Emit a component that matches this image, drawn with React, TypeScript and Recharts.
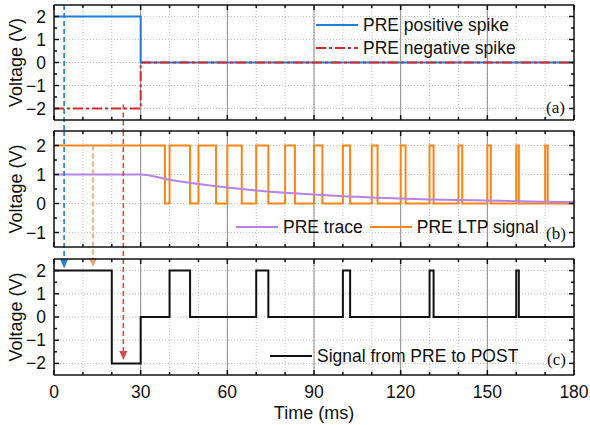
import React from "react";
import {
  ComposedChart,
  Line,
  XAxis,
  YAxis,
  CartesianGrid,
  ReferenceLine,
  Legend,
} from "recharts";

const W = 590;
const H = 425;
const FONT = '"Liberation Sans", Arial, sans-serif';
const INK = "#111";
const FS = 17.5;

// time axis (ms)
const X_TICKS = [0, 10, 20, 30, 40, 50, 60, 70, 80, 90, 100, 110, 120, 130, 140, 150, 160, 170, 180];
const X_MAJOR = [30, 60, 90, 120, 150];

// (a) PRE spikes
const POS_T = [0, 30, 180];
const POS_V = [2, 0, 0];
const NEG_T = [0, 30, 180];
const NEG_V = [-2, 0, 0];

// (b) PRE trace and LTP signal
const TRACE_T = [0, 10, 20, 30, 40, 50, 60, 70, 80, 90, 100, 110, 120, 130, 140, 150, 160, 170, 180];
const TRACE_V = [1, 1, 1, 1, 0.82, 0.67, 0.55, 0.45, 0.37, 0.31, 0.25, 0.21, 0.17, 0.14, 0.12, 0.1, 0.08, 0.06, 0.05];
const LTP_T = [
  0, 38.4, 40, 47.1, 50, 56.1, 60, 65, 70, 74.2, 80, 83.4, 90, 92.9, 100, 102.5,
  110, 112, 120, 121.7, 130, 131.4, 140, 141.3, 150, 151.2, 160, 160.9, 170, 170.9, 180,
];
const LTP_V = [
  2, 0, 2, 0, 2, 0, 2, 0, 2, 0, 2, 0, 2, 0, 2, 0,
  2, 0, 2, 0, 2, 0, 2, 0, 2, 0, 2, 0, 2, 0, 0,
];

// (c) signal sent from PRE to POST
const SIG_T = [0, 20, 30, 40, 47.1, 70, 74.2, 100, 102.5, 130, 131.4, 160, 160.9, 180];
const SIG_V = [2, -2, 0, 2, 0, 2, 0, 2, 0, 2, 0, 2, 0, 0];

// legend order per panel
const NAMES_A = ["PRE positive spike", "PRE negative spike"];
const NAMES_B = ["PRE trace", "PRE LTP signal"];
const NAMES_C = ["Signal from PRE to POST"];

// dashed arrows linking the panels (time in ms)
const ARROW_BLUE_T = 3.5;
const ARROW_ORANGE_T = 13.5;
const ARROW_RED_T = 24;

const BLUE = "#1f7fd6";
const RED = "#d42a2a";
const PURPLE = "#b783ea";
const ORANGE = "#ff8418";
const ARROW_ORANGE = "#f5a06a";
const ARROW_RED = "#d94a4a";

const pts = (ts: number[], vs: number[]) => ts.map((t, i) => ({ t, v: vs[i] }));

const fmt = (v: number) => (v < 0 ? `\u2212${-v}` : `${v}`);

const leftTick = (p: any) => {
  const v = p.payload.value;
  const major = Number.isInteger(v);
  return (
    <g>
      <line x1={p.x} y1={p.y} x2={p.x + (major ? 5 : 3)} y2={p.y} stroke={INK} strokeWidth={1.5} />
      {major && (
        <text x={p.x - 8} y={p.y} textAnchor="end" dominantBaseline="central" fontSize={FS} fill={INK}>
          {fmt(v)}
        </text>
      )}
    </g>
  );
};

const rightTick = (p: any) => {
  const major = Number.isInteger(p.payload.value);
  return <line x1={p.x} y1={p.y} x2={p.x - (major ? 5 : 3)} y2={p.y} stroke={INK} strokeWidth={1.5} />;
};

const topTick = (p: any) => {
  const major = p.payload.value % 30 === 0;
  return <line x1={p.x} y1={p.y} x2={p.x} y2={p.y + (major ? 5 : 3)} stroke={INK} strokeWidth={1.5} />;
};

const bottomTick = (labels: boolean) => (p: any) => {
  const v = p.payload.value;
  const major = v % 30 === 0;
  return (
    <g>
      <line x1={p.x} y1={p.y} x2={p.x} y2={p.y - (major ? 5 : 3)} stroke={INK} strokeWidth={1.5} />
      {labels && major && (
        <text x={p.x} y={p.y + 17} textAnchor="middle" dominantBaseline="central" fontSize={FS} fill={INK}>
          {v}
        </text>
      )}
    </g>
  );
};

// dashed arrow piece; the last piece carries the head
const arrow = (color: string, head: boolean) => (p: any) => {
  const { x1, y1, x2, y2 } = p;
  return (
    <g>
      <line x1={x1} y1={y1} x2={x2} y2={head ? y2 - 4 : y2} stroke={color} strokeWidth={1.6} strokeDasharray="5 3" />
      {head && <polygon points={`${x2},${y2} ${x2 - 4},${y2 - 9} ${x2 + 4},${y2 - 9}`} fill={color} />}
    </g>
  );
};

const legendContent = (dir: "row" | "column", order: string[]) => (props: any) => {
  const items = [...(props.payload ?? [])].sort((a: any, b: any) => order.indexOf(a.value) - order.indexOf(b.value));
  return (
    <div style={{ display: "flex", flexDirection: dir, gap: dir === "row" ? 7 : 3, fontFamily: FONT }}>
      {items.map((e: any) => (
        <div key={e.value} style={{ display: "flex", alignItems: "center", height: 20 }}>
          <svg width={42} height={10}>
            <line x1={0} y1={5} x2={42} y2={5} stroke={e.color} strokeWidth={2} strokeDasharray={e.payload?.strokeDasharray} />
          </svg>
          <span style={{ marginLeft: 5, fontSize: FS, color: INK, whiteSpace: "nowrap" }}>{e.value}</span>
        </div>
      ))}
    </div>
  );
};

const axisLine = { stroke: INK, strokeWidth: 1.5 };

function frame(yDomain: number[], yTicks: number[], gridY: number[], xLabels: boolean) {
  return [
    <CartesianGrid key="grid" stroke="#c2c2c2" strokeDasharray="1 2" horizontalValues={gridY} />,
    ...X_MAJOR.map((x) => <ReferenceLine key={`m${x}`} x={x} stroke="#8c8c8c" strokeWidth={1} />),
    <XAxis
      key="xb"
      xAxisId={0}
      type="number"
      dataKey="t"
      domain={[0, 180]}
      allowDataOverflow
      ticks={X_TICKS}
      interval={0}
      height={xLabels ? 50 : 1}
      tickSize={0}
      tickMargin={0}
      axisLine={axisLine}
      tickLine={false}
      tick={bottomTick(xLabels)}
      label={xLabels ? { value: "Time (ms)", position: "insideBottom", offset: 6, fontSize: 18, fill: INK } : undefined}
    />,
    <XAxis
      key="xt"
      xAxisId="top"
      orientation="top"
      type="number"
      dataKey="t"
      domain={[0, 180]}
      allowDataOverflow
      ticks={X_TICKS}
      interval={0}
      height={1}
      tickSize={0}
      tickMargin={0}
      axisLine={axisLine}
      tickLine={false}
      tick={topTick}
    />,
    <YAxis
      key="yl"
      yAxisId={0}
      type="number"
      domain={yDomain}
      allowDataOverflow
      ticks={yTicks}
      interval={0}
      width={44}
      tickSize={0}
      tickMargin={0}
      axisLine={axisLine}
      tickLine={false}
      tick={leftTick}
      label={{
        value: "Voltage (V)",
        angle: -90,
        position: "insideLeft",
        offset: 6,
        fontSize: 18,
        fill: INK,
        style: { textAnchor: "middle" },
      }}
    />,
    <YAxis
      key="yr"
      yAxisId="right"
      orientation="right"
      type="number"
      domain={yDomain}
      allowDataOverflow
      ticks={yTicks}
      interval={0}
      width={1}
      tickSize={0}
      tickMargin={0}
      axisLine={axisLine}
      tickLine={false}
      tick={rightTick}
    />,
  ];
}

const layer: React.CSSProperties = { position: "absolute", left: 0, top: 0 };
const tag: React.CSSProperties = {
  position: "absolute",
  fontFamily: '"Liberation Serif", "Times New Roman", serif',
  fontSize: 17,
  color: INK,
  lineHeight: "18px",
};

const Y5_TICKS = [-2, -1.5, -1, -0.5, 0, 0.5, 1, 1.5, 2];
const Y5_GRID = [-2, -1, 0, 1, 2];
const YB_TICKS = [-1, -0.5, 0, 0.5, 1, 1.5, 2];
const YB_GRID = [-1, 0, 1, 2];

export default function App() {
  return (
    <div style={{ position: "absolute", left: 0, top: 0, width: W, height: H, background: "#fff", fontFamily: FONT }}>
      {/* (a) */}
      <div style={layer}>
        <ComposedChart width={W} height={H} margin={{ top: 4, right: 15, bottom: 304, left: 10 }}>
          {frame([-2.5, 2.5], Y5_TICKS, Y5_GRID, false)}
          <Line data={pts(POS_T, POS_V)} dataKey="v" name="PRE positive spike" type="stepAfter" stroke={BLUE} strokeWidth={2} dot={false} isAnimationActive={false} />
          <Line data={pts(NEG_T, NEG_V)} dataKey="v" name="PRE negative spike" type="stepAfter" stroke={RED} strokeWidth={2} strokeDasharray="10 3 3 3" dot={false} isAnimationActive={false} />
          <ReferenceLine segment={[{ x: ARROW_BLUE_T, y: 2.5 }, { x: ARROW_BLUE_T, y: -3 }]} ifOverflow="visible" shape={arrow(BLUE, false)} />
          <ReferenceLine segment={[{ x: ARROW_RED_T, y: -1.83 }, { x: ARROW_RED_T, y: -3 }]} ifOverflow="visible" shape={arrow(ARROW_RED, false)} />
          <Legend
            layout="vertical"
            align="center"
            verticalAlign="middle"
            wrapperStyle={{ top: 15, left: 316, right: "auto", bottom: "auto" }}
            content={legendContent("column", NAMES_A)}
          />
        </ComposedChart>
      </div>

      {/* (b) */}
      <div style={layer}>
        <ComposedChart width={W} height={H} margin={{ top: 130, right: 15, bottom: 177, left: 10 }}>
          {frame([-1.5, 2.5], YB_TICKS, YB_GRID, false)}
          <Line data={pts(LTP_T, LTP_V)} dataKey="v" name="PRE LTP signal" type="stepAfter" stroke={ORANGE} strokeWidth={2} dot={false} isAnimationActive={false} />
          <Line data={pts(TRACE_T, TRACE_V)} dataKey="v" name="PRE trace" type="monotone" stroke={PURPLE} strokeWidth={2} dot={false} isAnimationActive={false} />
          <ReferenceLine segment={[{ x: ARROW_BLUE_T, y: 2.5 }, { x: ARROW_BLUE_T, y: -1.9 }]} ifOverflow="visible" shape={arrow(BLUE, false)} />
          <ReferenceLine segment={[{ x: ARROW_ORANGE_T, y: 2 }, { x: ARROW_ORANGE_T, y: -1.9 }]} ifOverflow="visible" shape={arrow(ARROW_ORANGE, false)} />
          <ReferenceLine segment={[{ x: ARROW_RED_T, y: 2.5 }, { x: ARROW_RED_T, y: -1.9 }]} ifOverflow="visible" shape={arrow(ARROW_RED, false)} />
          <Legend
            layout="vertical"
            align="center"
            verticalAlign="middle"
            wrapperStyle={{ top: 217, left: 236, right: "auto", bottom: "auto" }}
            content={legendContent("row", NAMES_B)}
          />
        </ComposedChart>
      </div>

      {/* (c) */}
      <div style={layer}>
        <ComposedChart width={W} height={H} margin={{ top: 258, right: 15, bottom: 0, left: 10 }}>
          {frame([-2.5, 2.5], Y5_TICKS, Y5_GRID, true)}
          <Line data={pts(SIG_T, SIG_V)} dataKey="v" name="Signal from PRE to POST" type="stepAfter" stroke={INK} strokeWidth={2} dot={false} isAnimationActive={false} />
          <ReferenceLine segment={[{ x: ARROW_BLUE_T, y: 2.5 }, { x: ARROW_BLUE_T, y: 2.1 }]} ifOverflow="visible" shape={arrow(BLUE, true)} />
          <ReferenceLine segment={[{ x: ARROW_ORANGE_T, y: 2.5 }, { x: ARROW_ORANGE_T, y: 2.15 }]} ifOverflow="visible" shape={arrow(ARROW_ORANGE, true)} />
          <ReferenceLine segment={[{ x: ARROW_RED_T, y: 2.5 }, { x: ARROW_RED_T, y: -1.85 }]} ifOverflow="visible" shape={arrow(ARROW_RED, true)} />
          <Legend
            layout="vertical"
            align="center"
            verticalAlign="middle"
            wrapperStyle={{ top: 346, left: 270, right: "auto", bottom: "auto" }}
            content={legendContent("row", NAMES_C)}
          />
        </ComposedChart>
      </div>

      <div style={{ ...tag, left: 546, top: 99 }}>(a)</div>
      <div style={{ ...tag, left: 546, top: 225 }}>(b)</div>
      <div style={{ ...tag, left: 547, top: 351 }}>(c)</div>
    </div>
  );
}
